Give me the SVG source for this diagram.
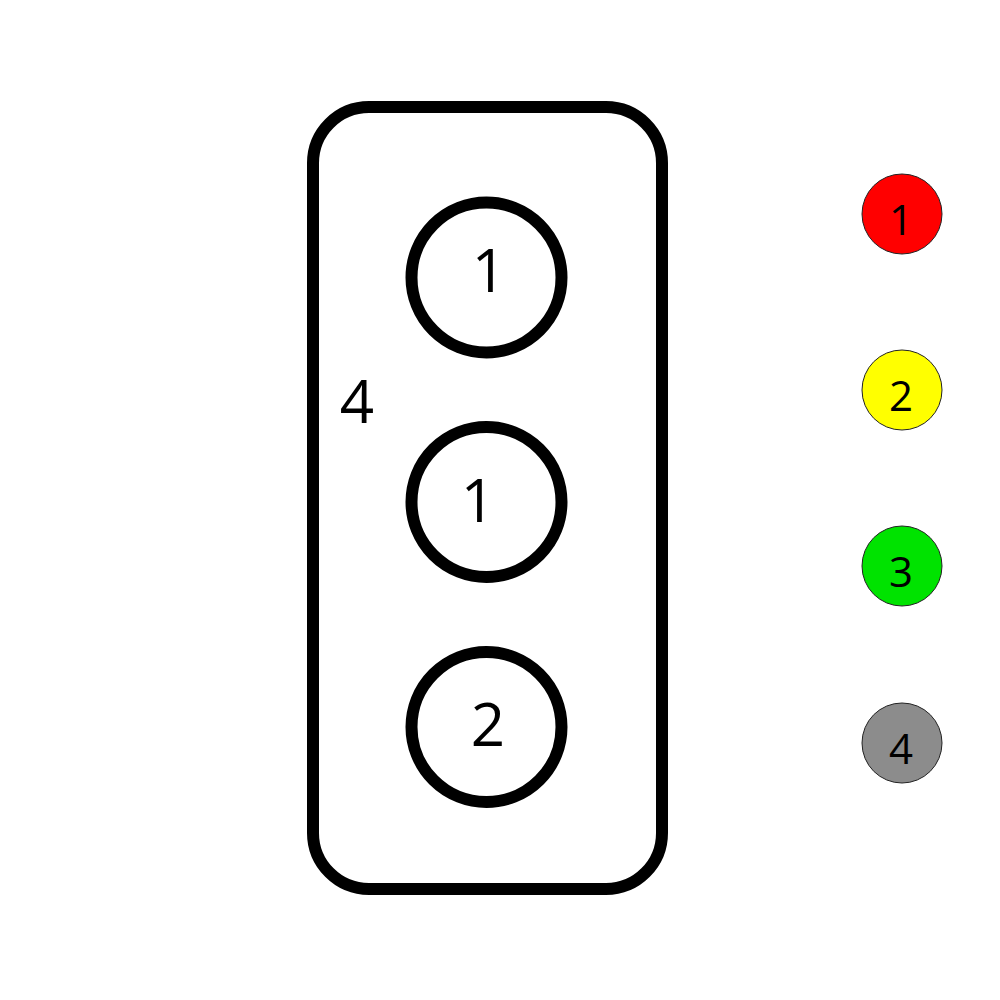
<svg xmlns="http://www.w3.org/2000/svg" width="1000" height="1000" viewBox="0 0 1000 1000">
<style>
.big{fill:none;stroke:#000;stroke-width:12}
.lbl{font-family:"Open Sans","Noto Sans",sans-serif;font-size:60px;fill:#000;text-anchor:middle}
.leg{stroke:#222;stroke-width:1}
.ll{font-family:"Open Sans","Noto Sans",sans-serif;font-size:42px;fill:#000;text-anchor:middle}
</style>
<rect width="1000" height="1000" fill="#fff"/>
<g id="frame">
<rect class="big" x="313" y="107" width="349" height="782" rx="56" ry="56"/>
<text class="lbl" x="357" y="423">4</text>
</g>
<g id="c1">
<circle class="big" cx="486.5" cy="277.5" r="75"/>
<text class="lbl" x="489" y="292">1</text>
</g>
<g id="c2">
<circle class="big" cx="486.5" cy="502" r="75"/>
<text class="lbl" x="478" y="522">1</text>
</g>
<g id="c3">
<circle class="big" cx="486.5" cy="727" r="75"/>
<text class="lbl" x="488" y="746">2</text>
</g>
<g id="legend1">
<circle class="leg" cx="902" cy="214" r="40" fill="#ff0000"/>
<text class="ll" x="901" y="235">1</text>
</g>
<g id="legend2">
<circle class="leg" cx="902" cy="390" r="40" fill="#ffff00"/>
<text class="ll" x="901" y="411">2</text>
</g>
<g id="legend3">
<circle class="leg" cx="902" cy="566" r="40" fill="#00e300"/>
<text class="ll" x="901" y="587">3</text>
</g>
<g id="legend4">
<circle class="leg" cx="902" cy="743" r="40" fill="#8c8c8c"/>
<text class="ll" x="901" y="764">4</text>
</g>
<g id="connectors"></g>
</svg>
